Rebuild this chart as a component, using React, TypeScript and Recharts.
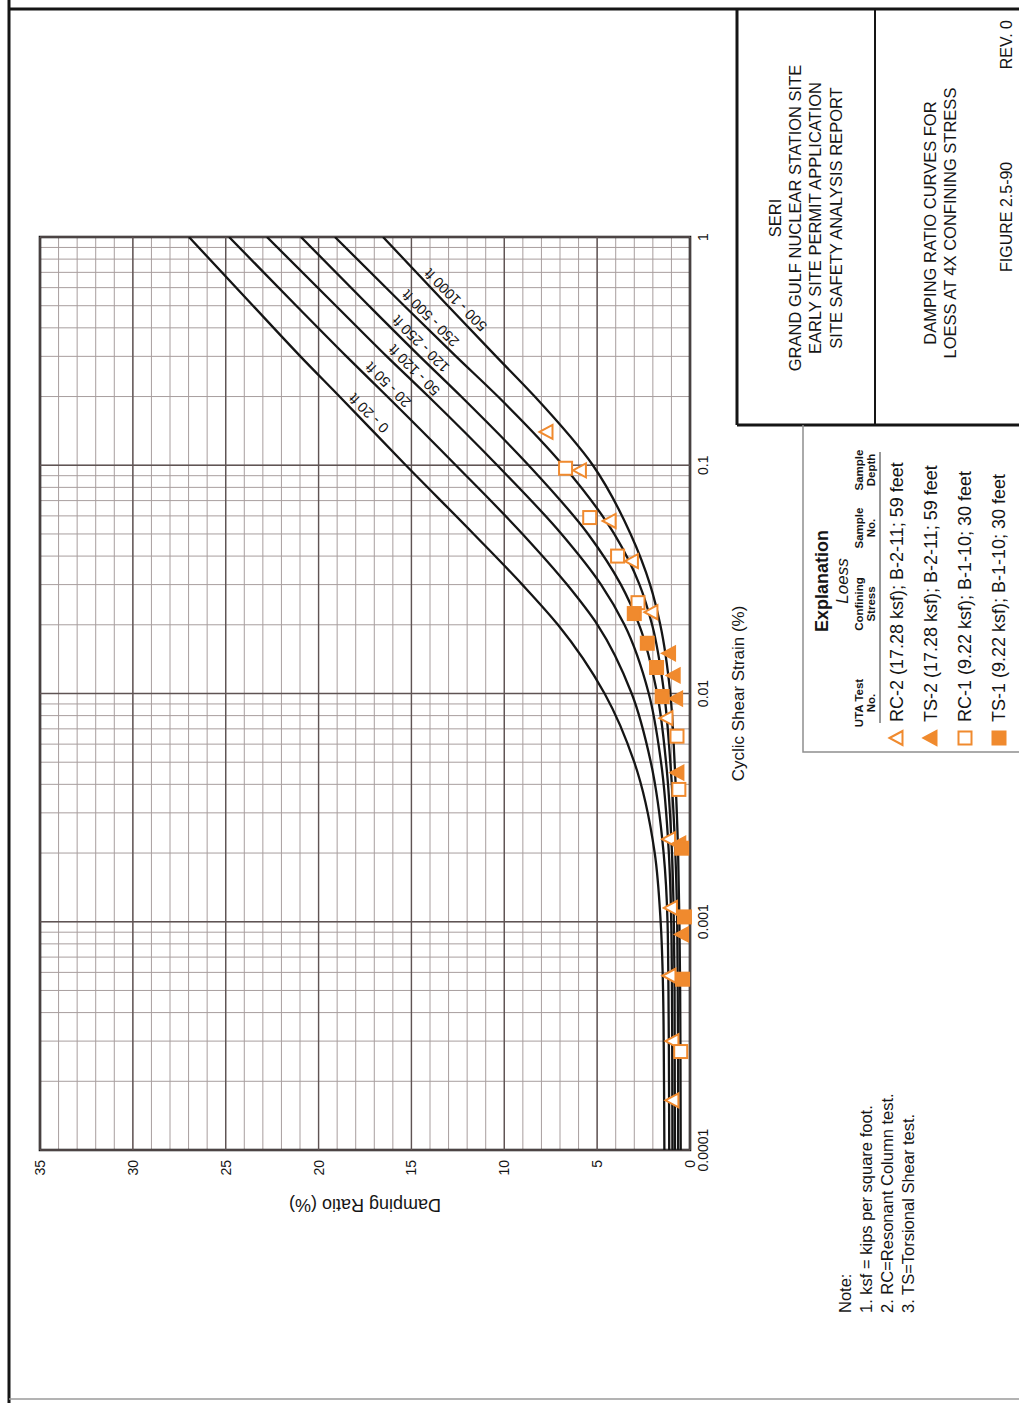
import React from 'react';
import {
  ComposedChart,
  Line,
  Scatter,
  XAxis,
  YAxis,
  CartesianGrid,
  ReferenceLine,
  ReferenceArea,
  ReferenceDot,
} from 'recharts';

const FONT = '"Liberation Sans", Arial, Helvetica, sans-serif';
const ORANGE = '#F08A2E';
const INK = '#151515';

// page is drawn in landscape, then turned to portrait
const PAGE_W = 1403;
const PAGE_H = 1019;

// cyclic shear strain (%) where the curves were read
const STRAINS = [0.0001, 0.0002, 0.0005, 0.001, 0.002, 0.005, 0.01, 0.02, 0.03, 0.05, 0.1, 0.2, 0.3, 0.5, 1];

// damping ratio (%) per depth range
const D_0_20 = [1.38, 1.4, 1.45, 1.58, 1.9, 3.0, 4.6, 7.11, 9.03, 11.65, 15.3, 18.87, 20.98, 23.53, 26.98];
const D_20_50 = [1.12, 1.13, 1.16, 1.21, 1.42, 2.11, 3.14, 4.98, 6.62, 9.02, 12.61, 16.3, 18.5, 21.2, 24.82];
const D_50_120 = [0.94, 0.95, 0.97, 1.01, 1.14, 1.56, 2.22, 3.53, 4.79, 6.92, 10.38, 14.08, 16.33, 19.07, 22.78];
const D_120_250 = [0.81, 0.82, 0.83, 0.87, 0.97, 1.29, 1.77, 2.74, 3.72, 5.49, 8.69, 12.32, 14.55, 17.29, 20.95];
const D_250_500 = [0.64, 0.64, 0.66, 0.69, 0.79, 1.06, 1.39, 2.04, 2.72, 4.08, 6.84, 10.34, 12.6, 15.39, 19.12];
const D_500_1000 = [0.5, 0.51, 0.53, 0.57, 0.64, 0.83, 1.06, 1.6, 2.15, 3.2, 5.23, 8.36, 10.44, 13.04, 16.53];

const CURVE_NAMES = ['0 - 20 ft', '20 - 50 ft', '50 - 120 ft', '120 - 250 ft', '250 - 500 ft', '500 - 1000 ft'];
const CURVE_VALUES = [D_0_20, D_20_50, D_50_120, D_120_250, D_250_500, D_500_1000];

// where each curve name sits (strain, damping)
const LABEL_STRAIN = [0.169, 0.225, 0.261, 0.34, 0.44, 0.53];
const LABEL_DAMPING = [17.3, 16.25, 14.85, 14.5, 13.97, 12.62];

// test results
const RC2_STRAIN = [0.14, 0.095, 0.057, 0.038, 0.0227, 0.0078, 0.0023, 0.00115, 0.00058, 0.0003, 0.000165];
const RC2_DAMPING = [7.7, 5.9, 4.3, 3.1, 2.05, 1.24, 1.1, 1.0, 1.08, 0.92, 0.92];
const TS2_STRAIN = [0.015, 0.012, 0.0095, 0.0045, 0.0022, 0.00088];
const TS2_DAMPING = [1.1, 0.85, 0.72, 0.65, 0.55, 0.4];
const RC1_STRAIN = [0.097, 0.059, 0.04, 0.025, 0.0065, 0.0038, 0.00027];
const RC1_DAMPING = [6.7, 5.4, 3.9, 2.8, 0.7, 0.6, 0.5];
const TS1_STRAIN = [0.0224, 0.0166, 0.013, 0.0097, 0.0021, 0.00105, 0.00056];
const TS1_DAMPING = [3.0, 2.3, 1.8, 1.5, 0.45, 0.3, 0.4];

const DECADES = [0.0001, 0.001, 0.01, 0.1, 1];
const DECADE_LABELS = ['0.0001', '0.001', '0.01', '0.1', '1'];
const MINOR_STEPS = [2, 3, 4, 5, 6, 7, 8, 9];
const Y_MAJOR = [0, 5, 10, 15, 20, 25, 30, 35];

const X_TICKS: number[] = [];
DECADES.forEach((d, i) => {
  X_TICKS.push(d);
  if (i < DECADES.length - 1) MINOR_STEPS.forEach((m) => X_TICKS.push(d * m));
});
const Y_TICKS = Array.from({ length: 36 }, (_, i) => i);

const toPoints = (xs: number[], ys: number[]) => xs.map((x, i) => ({ x, y: ys[i] }));

const TriangleMark = ({ cx, cy, filled }: { cx: number; cy: number; filled: boolean }) => (
  <path
    d={`M${cx},${cy - 7.5} L${cx + 7},${cy + 5.5} L${cx - 7},${cy + 5.5} Z`}
    fill={filled ? ORANGE : '#fff'}
    stroke={ORANGE}
    strokeWidth={2}
    strokeLinejoin="miter"
  />
);

const SquareMark = ({ cx, cy, filled }: { cx: number; cy: number; filled: boolean }) => (
  <rect x={cx - 6.5} y={cy - 6.5} width={13} height={13} fill={filled ? ORANGE : '#fff'} stroke={ORANGE} strokeWidth={2} />
);

const SERIES = [
  { key: 'RC-2', strain: RC2_STRAIN, damping: RC2_DAMPING, kind: 'tri', filled: false, text: 'RC-2 (17.28 ksf); B-2-11; 59 feet' },
  { key: 'TS-2', strain: TS2_STRAIN, damping: TS2_DAMPING, kind: 'tri', filled: true, text: 'TS-2 (17.28 ksf); B-2-11; 59 feet' },
  { key: 'RC-1', strain: RC1_STRAIN, damping: RC1_DAMPING, kind: 'sq', filled: false, text: 'RC-1 (9.22 ksf); B-1-10; 30 feet' },
  { key: 'TS-1', strain: TS1_STRAIN, damping: TS1_DAMPING, kind: 'sq', filled: true, text: 'TS-1 (9.22 ksf); B-1-10; 30 feet' },
];

const markFor = (kind: string, filled: boolean) => (p: any) =>
  kind === 'tri' ? <TriangleMark cx={p.cx} cy={p.cy} filled={filled} /> : <SquareMark cx={p.cx} cy={p.cy} filled={filled} />;

const curveLabel = (text: string) => (p: any) => (
  <text
    x={p.cx}
    y={p.cy}
    transform={`rotate(-45 ${p.cx} ${p.cy})`}
    textAnchor="middle"
    dominantBaseline="central"
    fontFamily={FONT}
    fontSize={14.5}
    fill={INK}
  >
    {text}
  </text>
);

const formatX = (v: number) => {
  const i = DECADES.findIndex((d) => Math.abs(d - v) < d * 1e-6);
  return i >= 0 ? DECADE_LABELS[i] : '';
};
const formatY = (v: number) => (v % 5 === 0 ? String(v) : '');

function DampingChart() {
  return (
    <ComposedChart width={1036} height={740} margin={{ top: 20, right: 20, bottom: 10, left: 43 }}>
      <CartesianGrid stroke="#a89e9e" strokeWidth={1} />
      <XAxis
        dataKey="x"
        type="number"
        scale="log"
        domain={[0.0001, 1]}
        allowDataOverflow
        ticks={X_TICKS}
        interval={0}
        tickFormatter={formatX}
        tickLine={false}
        axisLine={false}
        tickSize={0}
        tickMargin={8}
        height={60}
        tick={{ fill: INK, fontSize: 14, fontFamily: FONT }}
        label={{ value: 'Cyclic Shear Strain (%)', position: 'insideBottom', offset: 6, fill: INK, fontSize: 17, fontFamily: FONT }}
      />
      <YAxis
        type="number"
        domain={[0, 35]}
        ticks={Y_TICKS}
        interval={0}
        tickFormatter={formatY}
        tickLine={false}
        axisLine={false}
        tickSize={0}
        tickMargin={10}
        width={60}
        tick={{ fill: INK, fontSize: 14, fontFamily: FONT }}
        label={{
          content: (props: any) => {
            const vb = props.viewBox || { x: 0, y: 0, width: 0, height: 0 };
            const cx = vb.x + 5;
            const cy = vb.y + vb.height / 2;
            return (
              <text
                x={cx}
                y={cy}
                transform={`rotate(-90 ${cx} ${cy})`}
                textAnchor="middle"
                dominantBaseline="central"
                fontFamily={FONT}
                fontSize={18}
                fill={INK}
              >
                Damping Ratio (%)
              </text>
            );
          },
        }}
      />
      {DECADES.map((d) => (
        <ReferenceLine key={`dx-${d}`} x={d} stroke="#5f5454" strokeWidth={1.4} />
      ))}
      {Y_MAJOR.map((d) => (
        <ReferenceLine key={`dy-${d}`} y={d} stroke="#5f5454" strokeWidth={1.4} />
      ))}
      <ReferenceArea x1={0.0001} x2={1} y1={0} y2={35} fill="none" stroke={INK} strokeWidth={2.6} ifOverflow="visible" />
      {CURVE_VALUES.map((vals, i) => (
        <Line
          key={CURVE_NAMES[i]}
          data={toPoints(STRAINS, vals)}
          dataKey="y"
          type="monotone"
          stroke={INK}
          strokeWidth={2.3}
          dot={false}
          activeDot={false}
          isAnimationActive={false}
        />
      ))}
      {CURVE_NAMES.map((name, i) => (
        <ReferenceDot key={`lbl-${name}`} x={LABEL_STRAIN[i]} y={LABEL_DAMPING[i]} r={0} shape={curveLabel(name)} />
      ))}
      {SERIES.map((s) => (
        <Scatter
          key={s.key}
          name={s.key}
          data={toPoints(s.strain, s.damping)}
          dataKey="y"
          shape={markFor(s.kind, s.filled)}
          isAnimationActive={false}
        />
      ))}
    </ComposedChart>
  );
}

const T = ({ x, y, children, size = 16, anchor = 'start', weight = 'normal', italic = false, fill = INK }: any) => (
  <text
    x={x}
    y={y}
    textAnchor={anchor}
    dominantBaseline="central"
    fontFamily={FONT}
    fontSize={size}
    fontWeight={weight}
    fontStyle={italic ? 'italic' : 'normal'}
    fill={fill}
  >
    {children}
  </text>
);

const ROW_V = [897, 931, 965, 999];

function PageFrame() {
  return (
    <svg width={PAGE_W} height={PAGE_H} style={{ position: 'absolute', left: 0, top: 0 }}>
      {/* sheet border */}
      <line x1={0} y1={9} x2={PAGE_W} y2={9} stroke={INK} strokeWidth={3} />
      <line x1={1394} y1={9} x2={1394} y2={PAGE_H} stroke={INK} strokeWidth={3} />
      <line x1={4} y1={9} x2={4} y2={PAGE_H} stroke="#9a9a9a" strokeWidth={1.5} />

      {/* title block */}
      <line x1={978} y1={737} x2={1394} y2={737} stroke={INK} strokeWidth={3} />
      <line x1={978} y1={737} x2={978} y2={PAGE_H} stroke={INK} strokeWidth={3} />
      <line x1={978} y1={875} x2={1394} y2={875} stroke={INK} strokeWidth={2} />
      <T x={1185} y={775} anchor="middle" size={16.5}>SERI</T>
      <T x={1185} y={795} anchor="middle" size={16.5}>GRAND GULF NUCLEAR STATION SITE</T>
      <T x={1185} y={815} anchor="middle" size={16.5}>EARLY SITE PERMIT APPLICATION</T>
      <T x={1185} y={836} anchor="middle" size={16.5}>SITE SAFETY ANALYSIS REPORT</T>
      <T x={1180} y={930} anchor="middle" size={16.5}>DAMPING RATIO CURVES FOR</T>
      <T x={1180} y={950} anchor="middle" size={16.5}>LOESS AT 4X CONFINING STRESS</T>
      <T x={1131} y={1006} size={16}>FIGURE 2.5-90</T>
      <T x={1383} y={1006} anchor="end" size={16}>REV. 0</T>

      {/* explanation box */}
      <path d={`M978,803 L651,803 L651,${PAGE_H}`} fill="none" stroke="#8f8f8f" strokeWidth={1.5} />
      <T x={822} y={822} anchor="middle" size={18} weight="bold">Explanation</T>
      <T x={822} y={842} anchor="middle" size={17} italic>Loess</T>
      <T x={700} y={859} anchor="middle" size={11.5} weight="bold">UTA Test</T>
      <T x={700} y={871} anchor="middle" size={11.5} weight="bold">No.</T>
      <T x={799} y={859} anchor="middle" size={11.5} weight="bold">Confining</T>
      <T x={799} y={871} anchor="middle" size={11.5} weight="bold">Stress</T>
      <T x={875} y={859} anchor="middle" size={11.5} weight="bold">Sample</T>
      <T x={875} y={871} anchor="middle" size={11.5} weight="bold">No.</T>
      <T x={933} y={859} anchor="middle" size={11.5} weight="bold">Sample</T>
      <T x={933} y={871} anchor="middle" size={11.5} weight="bold">Depth</T>
      <line x1={680} y1={880} x2={951} y2={880} stroke="#333" strokeWidth={1} />
      {SERIES.map((s, i) => (
        <g key={s.key}>
          {s.kind === 'tri' ? (
            <TriangleMark cx={665} cy={ROW_V[i]} filled={s.filled} />
          ) : (
            <SquareMark cx={665} cy={ROW_V[i]} filled={s.filled} />
          )}
          <T x={681} y={ROW_V[i]} size={18}>{s.text}</T>
        </g>
      ))}

      {/* notes */}
      <T x={90} y={845} size={16.5}>Note:</T>
      <T x={90} y={866} size={16.5}>1. ksf = kips per square foot.</T>
      <T x={90} y={887} size={16.5}>2. RC=Resonant Column test.</T>
      <T x={90} y={908} size={16.5}>3. TS=Torsional Shear test.</T>
    </svg>
  );
}

export default function App() {
  return (
    <>
      <style>{`html,body{margin:0;overflow:hidden;background:#fff}`}</style>
      <div
        style={{
          position: 'absolute',
          left: 0,
          top: 0,
          width: PAGE_W,
          height: PAGE_H,
          background: '#fff',
          fontFamily: FONT,
          transformOrigin: '0 0',
          transform: `translateY(${PAGE_W}px) rotate(-90deg)`,
        }}
      >
        <PageFrame />
        <div style={{ position: 'absolute', left: 150, top: 20 }}>
          <DampingChart />
        </div>
      </div>
    </>
  );
}
